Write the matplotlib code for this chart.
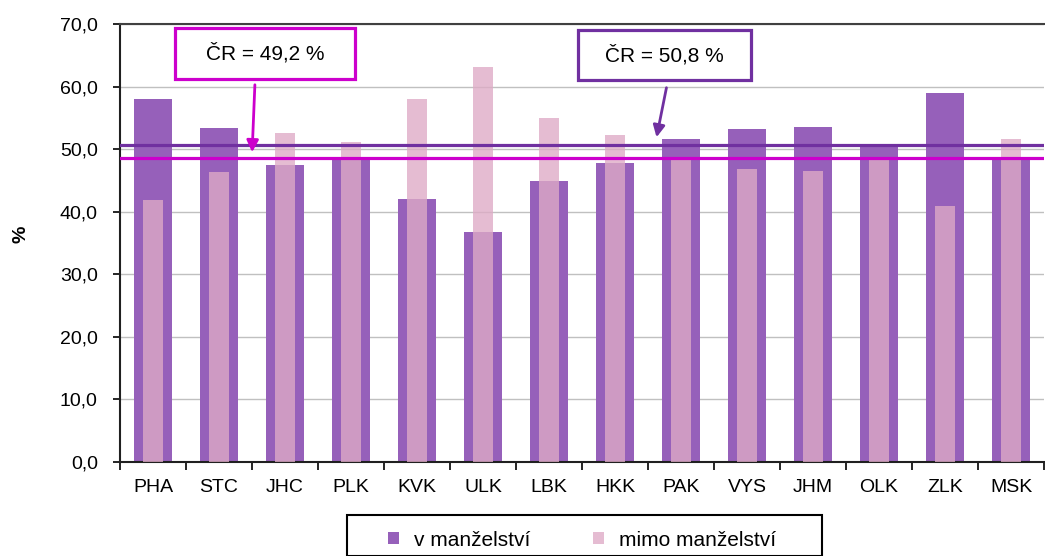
import matplotlib
matplotlib.use("Agg")
import matplotlib.pyplot as plt
from matplotlib.patches import Rectangle, Patch

categories = ["PHA", "STC", "JHC", "PLK", "KVK", "ULK", "LBK", "HKK", "PAK", "VYS", "JHM", "OLK", "ZLK", "MSK"]
v_manzelstvi = [58.0, 53.4, 47.5, 48.6, 42.0, 36.8, 44.9, 47.8, 51.6, 53.2, 53.5, 50.7, 59.0, 48.7]
mimo_manzelstvi = [41.9, 46.3, 52.6, 51.1, 58.0, 63.1, 55.0, 52.3, 48.3, 46.8, 46.5, 48.6, 40.9, 51.6]
cr_v_line = 50.6
cr_mimo_line = 48.6
label_v = "ČR = 50,8 %"
label_mimo = "ČR = 49,2 %"
yticks = [0, 10, 20, 30, 40, 50, 60, 70]

PURPLE = "#9660BA"
PINK = "#DEABC6"
LINE_PURPLE = "#7030A0"
LINE_MAGENTA = "#CC00CC"

plt.rcParams['font.family'] = ['Liberation Sans', 'DejaVu Sans']
FS = 14

fig = plt.figure(figsize=(10.45, 5.56), dpi=100)
W, H = 1045, 556
ax = fig.add_axes([120 / W, 1 - 462 / H, 924 / W, 438 / H])

x = list(range(len(categories)))
ax.bar(x, v_manzelstvi, width=0.58, color=PURPLE, zorder=2)
ax.bar(x, mimo_manzelstvi, width=0.29, color=PINK, alpha=0.79, zorder=3)

ax.axhline(cr_v_line, color=LINE_PURPLE, lw=2.3, zorder=4)
ax.axhline(cr_mimo_line, color=LINE_MAGENTA, lw=2.3, zorder=4)

ax.set_xlim(-0.5, len(categories) - 0.5)
ax.set_ylim(0, 70)
ax.set_yticks(yticks)
ax.set_yticklabels([f"{v:.1f}".replace(".", ",") for v in yticks], fontsize=FS)
ax.set_xticks(x)
ax.set_xticklabels(categories, fontsize=FS)
ax.tick_params(axis='x', length=0, pad=12)
ax.set_xticks([i + 0.5 for i in range(-1, len(categories))], minor=True)
ax.tick_params(axis='x', which='minor', length=6, width=1.2, direction='out')
ax.tick_params(axis='y', length=5, width=1.2, direction='out', pad=11)
ax.yaxis.grid(True, color="#C0C0C0", lw=1, zorder=0)
ax.set_axisbelow(True)
for s in ["left", "bottom"]:
    ax.spines[s].set_linewidth(1.5)
    ax.spines[s].set_color("#202020")
ax.spines["top"].set_linewidth(1.5)
ax.spines["top"].set_color("#404040")
ax.spines["right"].set_visible(False)
ax.set_ylabel("%", fontsize=FS, fontweight='bold')
ax.yaxis.set_label_coords((30 - 120) / 924, (462 - 234) / 438)

# annotation boxes
def px2d(px, py):
    return ((px - 120) / 66 - 0.5, (462 - py) / (438 / 70))

x0, y0 = px2d(175, 79)
x1, y1 = px2d(355, 28)
ax.add_patch(Rectangle((x0, y0), x1 - x0, y1 - y0, fill=True, facecolor="white",
                       edgecolor=LINE_MAGENTA, lw=2.3, zorder=6, clip_on=False))
ax.text((x0 + x1) / 2, (y0 + y1) / 2, label_mimo, ha='center', va='center', fontsize=15, zorder=7)
ax.annotate("", xy=px2d(252, 155), xytext=px2d(255, 82),
            arrowprops=dict(arrowstyle="-|>,head_length=0.7,head_width=0.35", color=LINE_MAGENTA, lw=2), zorder=6)

x0, y0 = px2d(578, 80)
x1, y1 = px2d(751, 30)
ax.add_patch(Rectangle((x0, y0), x1 - x0, y1 - y0, fill=True, facecolor="white",
                       edgecolor=LINE_PURPLE, lw=2.3, zorder=6, clip_on=False))
ax.text((x0 + x1) / 2, (y0 + y1) / 2, label_v, ha='center', va='center', fontsize=15, zorder=7)
ax.annotate("", xy=px2d(656, 140), xytext=px2d(667, 85),
            arrowprops=dict(arrowstyle="-|>,head_length=0.7,head_width=0.35", color=LINE_PURPLE, lw=2), zorder=6)

# legend with a custom frame
fig.add_artist(Rectangle((347 / W, 0), (822 - 347) / W, (556 - 515) / H, transform=fig.transFigure,
                         facecolor="white", edgecolor="black", lw=1.5, clip_on=False))
handles = [Patch(facecolor=PURPLE, label="v manželství"), Patch(facecolor=PINK, alpha=0.79, label="mimo manželství")]
leg = fig.legend(handles=handles, ncol=2, loc='center left', bbox_to_anchor=(388 / W, 1 - 540 / H),
                 fontsize=15, frameon=False, handlelength=0.55, handleheight=0.55,
                 columnspacing=3.0, borderpad=0.0, borderaxespad=0.0, handletextpad=0.7)

fig.savefig("out.png", dpi=100)
